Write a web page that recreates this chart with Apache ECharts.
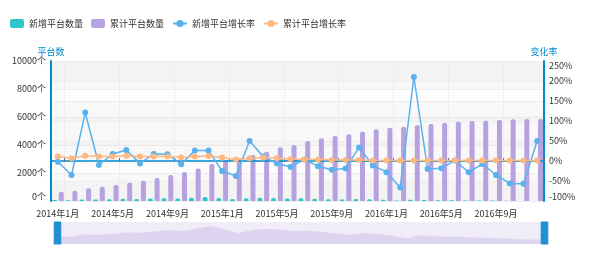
<!DOCTYPE html>
<html><head><meta charset="utf-8">
<script src="https://cdn.jsdelivr.net/npm/echarts@6/dist/echarts.min.js"></script>
<style>html,body{margin:0;padding:0;background:#fff}#c{width:600px;height:255px}</style>
</head><body><div id="c"></div>
<script>
const categories = ['2014年1月','2014年2月','2014年3月','2014年4月','2014年5月','2014年6月','2014年7月','2014年8月','2014年9月','2014年10月','2014年11月','2014年12月',
  '2015年1月','2015年2月','2015年3月','2015年4月','2015年5月','2015年6月','2015年7月','2015年8月','2015年9月','2015年10月','2015年11月','2015年12月',
  '2016年1月','2016年2月','2016年3月','2016年4月','2016年5月','2016年6月','2016年7月','2016年8月','2016年9月','2016年10月','2016年11月','2016年12月'];
const newCount = [80, 52, 115, 103, 121, 155, 146, 171, 200, 183, 231, 290, 218, 136, 204, 226, 213, 180, 188, 163, 128, 103, 138, 122, 88, 30, 93, 74, 61, 61, 44, 41, 27, 12, 5, 8];
const totalCount = [664, 736, 907, 1021, 1143, 1307, 1450, 1643, 1857, 2071, 2321, 2643, 2900, 3080, 3286, 3521, 3836, 4000, 4286, 4479, 4643, 4764, 4950, 5121, 5236, 5307, 5407, 5500, 5593, 5664, 5714, 5736, 5786, 5836, 5857, 5860];
const newRate = [-2, -35, 121, -10, 17.5, 27.5, -6, 17.5, 17, -8, 26, 26, -25, -37.5, 50, 11, -6, -15, 4, -13, -22, -19, 34, -11, -28, -66, 210, -20, -18, 1, -28, -7.5, -35, -56, -57, 50];
const totalRate = [11, 7, 13, 11, 11, 13, 11, 11, 11, 9, 11, 12.5, 9, 4, 7, 9, 7, 5, 4, 4, 2.5, 2.5, 2.5, 1, 1, 1, 1, 1, 1, 1, 1, 1, 1, 1, 1, 1];
const seriesNames = ['新增平台数量', '累计平台数量', '新增平台增长率', '累计平台增长率'];
const axisNames = ['平台数', '变化率'];

const FONT = '"Noto Sans CJK SC", "Noto Sans", sans-serif';
const BLUE = '#008acd';
const splitColors = ['rgba(200,200,200,0.1)', 'rgba(250,250,250,0.1)'];
const tickFn = function (i) { return i % 4 === 1; };

const chart = echarts.init(document.getElementById('c'), null, {renderer: 'canvas'});
chart.setOption({
  animation: false,
  textStyle: {fontFamily: FONT},
  color: ['#2ec7c9', '#b6a2de', '#5ab1ef', '#ffb980'],
  legend: {
    left: 5, top: 14, itemWidth: 14, itemHeight: 9, itemGap: 8,
    textStyle: {fontSize: 9, color: '#333', fontFamily: FONT},
    data: seriesNames
  },
  grid: {left: 51, right: 56, top: 61, bottom: 54, containLabel: false},
  xAxis: [{
    type: 'category', data: categories, boundaryGap: true,
    axisLine: {show: false, onZero: false},
    axisTick: {show: false},
    axisLabel: {interval: 3, fontSize: 9, color: '#333', margin: 8, fontFamily: FONT},
    splitLine: {show: true, interval: tickFn, lineStyle: {color: '#eee'}}
  }, {
    type: 'category', data: categories, boundaryGap: true, position: 'top', z: 3,
    axisLine: {show: true, onZero: true, onZeroAxisIndex: 1, lineStyle: {color: BLUE, width: 1.5}},
    axisTick: {show: true, interval: tickFn, length: 3, lineStyle: {color: '#666'}},
    axisLabel: {show: false},
    splitLine: {show: false}
  }],
  yAxis: [{
    type: 'value', name: axisNames[0], min: 0, max: 10000, interval: 2000, position: 'left',
    nameGap: 5, nameTextStyle: {color: BLUE, fontSize: 9, fontFamily: FONT, align: 'center'},
    axisLine: {show: true, lineStyle: {color: BLUE, width: 2}},
    axisTick: {show: false},
    axisLabel: {formatter: function (v) { return v + '个'; }, fontSize: 9, color: '#333', margin: 5, verticalAlignMinLabel: 'bottom'},
    splitLine: {show: true, lineStyle: {color: '#eee'}},
    splitArea: {show: true, areaStyle: {color: splitColors}}
  }, {
    type: 'value', name: axisNames[1], min: -100, max: 250, interval: 50, position: 'right',
    nameGap: 5, nameTextStyle: {color: BLUE, fontSize: 9, fontFamily: FONT, align: 'center'},
    axisLine: {show: true, lineStyle: {color: BLUE, width: 2}},
    axisTick: {show: false},
    axisLabel: {formatter: function (v) { return v + '%'; }, fontSize: 9, color: '#333', margin: 5, verticalAlignMinLabel: 'bottom', verticalAlignMaxLabel: 'top'},
    splitLine: {show: true, lineStyle: {color: '#eee'}},
    splitArea: {show: true, areaStyle: {color: splitColors}}
  }],
  dataZoom: [{
    type: 'slider', xAxisIndex: [0, 1], start: 0, end: 100,
    left: 54, right: 57, top: 222, height: 22,
    showDetail: false, brushSelect: false,
    backgroundColor: 'rgba(0,0,0,0)', borderColor: 'transparent',
    fillerColor: 'rgba(182,162,222,0.2)',
    dataBackground: {lineStyle: {color: '#e0daf2', width: 0.5}, areaStyle: {color: '#e8e3f6', opacity: 1}},
    selectedDataBackground: {lineStyle: {color: '#e0daf2', width: 0.5}, areaStyle: {color: '#e8e3f6', opacity: 1}},
    handleIcon: 'path://M0,0H30V100H0Z M10,45V48H20V45Z M10,51V54H20V51Z',
    handleSize: '100%',
    handleStyle: {color: '#1e8fd0', borderColor: '#1e8fd0'},
    moveHandleSize: 0, moveHandleStyle: {opacity: 0}
  }],
  series: [{
    name: seriesNames[0], type: 'bar', data: newCount, xAxisIndex: 0, yAxisIndex: 0,
    barWidth: 5, barGap: '35%', z: 2, itemStyle: {borderRadius: [2, 2, 0, 0]}
  }, {
    name: seriesNames[1], type: 'bar', data: totalCount, xAxisIndex: 0, yAxisIndex: 0,
    barWidth: 5, barGap: '35%', z: 2, itemStyle: {borderRadius: [2, 2, 0, 0]}
  }, {
    name: seriesNames[2], type: 'line', data: newRate, xAxisIndex: 0, yAxisIndex: 1,
    symbol: 'circle', symbolSize: 6, z: 4, lineStyle: {width: 1.5}
  }, {
    name: seriesNames[3], type: 'line', data: totalRate, xAxisIndex: 0, yAxisIndex: 1,
    symbol: 'circle', symbolSize: 6, z: 4, lineStyle: {width: 1.5}
  }]
});
</script></body></html>
